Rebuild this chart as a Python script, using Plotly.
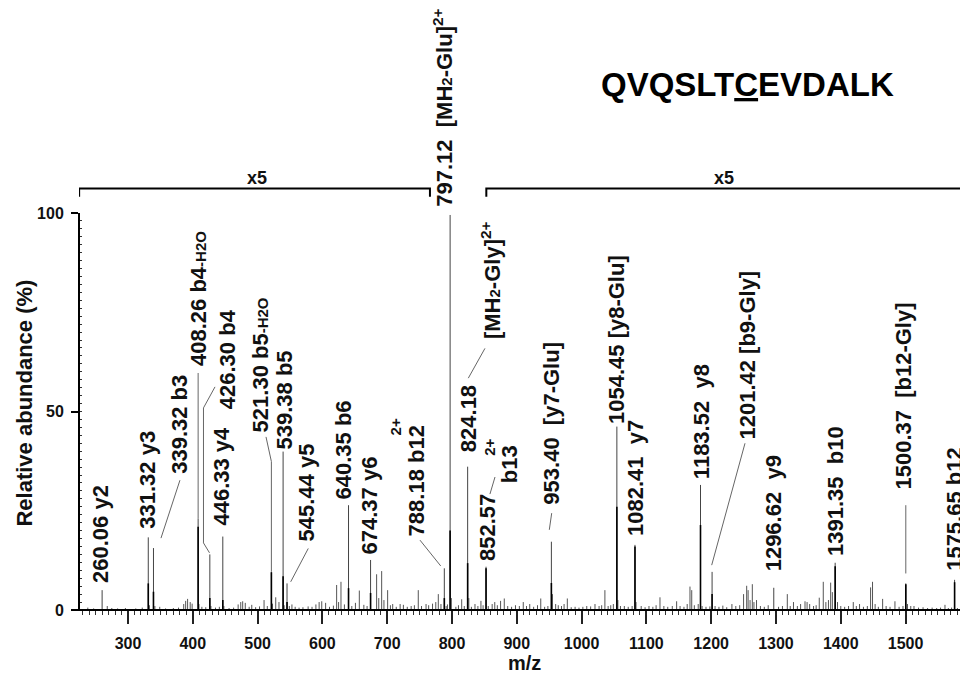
import plotly.graph_objects as go

# ---------------- data ----------------
# labelled fragment ions: m/z, displayed peak height (%), dark core height (%)
ion_mz = [260.06, 331.32, 339.32, 408.26, 426.30, 446.33, 521.30, 539.38, 545.44,
          640.35, 674.37, 788.18, 797.12, 824.18, 852.57, 953.40, 1054.45, 1082.41,
          1183.52, 1201.42, 1296.62, 1391.35, 1500.37, 1575.65]
ion_height = [5.0, 18.3, 15.6, 23.0, 14.0, 18.5, 9.7, 39.9, 6.7,
              26.4, 12.6, 10.5, 99.5, 36.1, 10.9, 17.2, 46.2, 16.4,
              31.5, 9.6, 5.6, 11.9, 6.7, 7.6]
ion_core = [0.0, 6.7, 4.6, 21.0, 3.0, 2.5, 9.5, 8.5, 2.0,
            5.5, 4.3, 3.0, 20.0, 11.8, 10.5, 6.8, 26.0, 16.0,
            21.4, 4.0, 0.0, 11.0, 6.5, 7.0]

# unlabelled background peaks
noise_mz = [238, 247, 268, 275, 284, 296, 312, 322, 333, 341.5, 349, 358, 370, 378, 386, 389,
            392, 396, 399, 409.5, 414, 420, 428, 435, 441, 448, 456, 463, 470, 474, 477, 481,
            487, 491, 497, 503, 510, 515, 523, 528, 533, 541, 549, 553, 558, 564, 570, 578,
            584, 590, 595, 599, 605, 611, 617, 622, 625, 628.7, 634, 645.4, 651, 657, 664,
            669, 683.7, 687, 691.5, 695, 700.7, 705, 708.5, 714, 720, 725, 731, 737, 742,
            748, 753, 760, 764, 770, 775, 778.9, 783, 791, 793, 799, 806, 810, 815, 819,
            826, 830, 835.5, 840, 844.7, 848, 856, 862, 866, 870, 875, 880.7, 886, 892, 898,
            904, 910, 915, 920, 926, 932, 937, 943, 948, 955, 960, 964, 969, 973, 978, 984,
            990, 996, 1002, 1008, 1014, 1020.7, 1027, 1031, 1036, 1041, 1045, 1049, 1056,
            1060, 1066, 1072, 1078, 1084, 1092, 1098, 1104, 1110, 1115, 1121, 1127, 1133,
            1140, 1146.7, 1152, 1158, 1163, 1167.3, 1170, 1174, 1180, 1186, 1192, 1198,
            1206, 1212, 1218, 1224, 1232, 1238, 1244, 1250, 1254.8, 1257, 1260, 1263.5,
            1266, 1270, 1276, 1282, 1288, 1304, 1310, 1317.5, 1322, 1327, 1333, 1338,
            1344.8, 1348, 1352, 1358, 1362, 1366.8, 1373, 1377, 1381, 1384.4, 1387, 1395,
            1400, 1406, 1412, 1419.3, 1424, 1429, 1435, 1441, 1446, 1449, 1453, 1458,
            1464.6, 1470, 1476, 1483.6, 1490, 1496, 1503, 1508, 1513, 1520, 1527, 1534,
            1541, 1548, 1554, 1560.8, 1566, 1571, 1580]
noise_height = [0.6, 0.4, 1.0, 0.5, 0.4, 0.5, 0.4, 0.6, 1.2, 1.0, 0.8, 0.4, 0.5, 0.6, 1.5, 2.3,
                2.8, 2.0, 1.6, 1.5, 0.8, 0.7, 1.0, 0.6, 0.8, 1.0, 0.5, 0.6, 1.4, 2.0, 2.2, 1.8,
                0.8, 1.3, 0.7, 0.9, 2.5, 1.0, 1.6, 3.2, 2.0, 1.2, 1.0, 1.4, 0.8, 0.6, 0.7, 0.9,
                0.8, 1.4, 2.0, 2.2, 1.8, 0.8, 1.1, 6.3, 2.0, 7.1, 1.4, 1.0, 1.8, 4.9, 1.3,
                1.0, 9.0, 3.0, 9.8, 2.5, 5.0, 1.2, 1.5, 0.8, 1.5, 1.3, 0.8, 1.0, 1.2,
                5.0, 1.0, 1.5, 1.2, 1.6, 2.0, 4.0, 1.5, 1.0, 1.4, 3.0, 0.8, 1.2, 2.7, 1.0,
                3.0, 0.8, 1.5, 1.0, 2.3, 1.2, 1.0, 1.5, 2.0, 1.2, 2.3, 2.9, 1.0, 0.8, 1.2,
                1.0, 2.0, 1.0, 1.5, 0.8, 1.2, 2.9, 0.8, 1.0, 4.0, 1.5, 1.2, 1.0, 1.5, 2.9, 0.7,
                0.8, 0.6, 0.8, 1.0, 0.9, 1.5, 1.0, 1.2, 5.0, 1.0, 1.2, 1.5, 2.5,
                1.0, 1.0, 0.8, 1.0, 2.0, 1.0, 0.7, 1.0, 0.8, 1.2, 3.2, 1.0, 0.8,
                1.0, 2.2, 1.0, 0.8, 1.5, 5.9, 5.0, 1.2, 1.5, 1.0, 0.8, 0.9,
                1.0, 0.8, 1.1, 0.7, 1.5, 1.0, 1.2, 4.0, 6.1, 5.0, 2.5, 6.5,
                2.0, 2.5, 1.0, 0.8, 1.2, 0.8, 1.0, 4.0, 1.0, 2.0, 1.0, 1.5,
                2.2, 2.0, 1.5, 1.0, 1.2, 3.1, 7.1, 2.0, 2.5, 6.9, 4.5, 2.0,
                1.0, 0.8, 1.0, 2.0, 1.0, 1.5, 0.8, 1.0, 5.7, 7.1, 1.5, 0.8,
                2.8, 1.0, 0.8, 2.2, 0.8, 1.0, 1.5, 1.0, 1.0, 0.6, 0.7, 0.5,
                0.6, 0.5, 0.6, 1.3, 0.5, 0.6, 0.5]

# peak annotations (text, anchor m/z, abundance at the label's lower end)
SM = '<span style="font-size:15px">{}</span>'
label_text = ["260.06 y2", "331.32 y3", "339.32 b3",
              "408.26 b4" + SM.format("-H2O"), "426.30 b4", "446.33 y4",
              "521.30 b5" + SM.format("-H2O"), "539.38 b5", "545.44 y5",
              "640.35 b6", "674.37 y6", "788.18 b12",
              "797.12&nbsp;&nbsp;[MH" + SM.format("2") + "-Glu]<sup>2+</sup>",
              "824.18", "[MH" + SM.format("2") + "-Gly]<sup>2+</sup>",
              "852.57", "b13",
              "953.40&nbsp;&nbsp;[y7-Glu]", "1054.45&nbsp;[y8-Glu]", "1082.41&nbsp;&nbsp;y7",
              "1183.52&nbsp;&nbsp;y8", "1201.42&nbsp;[b9-Gly]", "1296.62&nbsp;&nbsp;y9",
              "1391.35&nbsp;&nbsp;b10", "1500.37&nbsp;&nbsp;[b12-Gly]", "1575.65&nbsp;b12"]
label_x = [256.8, 328.9, 379.2, 408.8, 454.8, 445.1, 503.7, 542.3, 575.5,
           633.3, 672.7, 744.4, 786.0, 825.5, 860.2, 854.8, 888.0,
           954.3, 1053.9, 1084.0, 1185.0, 1256.8, 1296.1, 1391.0, 1497.5, 1576.2]
label_y = [6.55, 20.15, 34.0, 61.2, 50.4, 20.9, 44.6, 40.3, 16.9,
           27.7, 13.85, 18.4, 101.3, 39.5, 68.0, 12.1, 31.7,
           26.4, 46.6, 18.4, 32.7, 42.8, 9.6, 13.35, 30.2, 9.6]
# stand-alone charge marks
charge_x = [712.8, 858.6]
charge_y = [46.1, 41.1]

# leader lines joining labels to their peaks (m/z, abundance)
leaders = [
    [(380.2, 32.7), (350.9, 18.1)],
    [(408.26, 23.0), (408.26, 59.7)],
    [(434.3, 56.2), (416.5, 50.9), (416.5, 16.9), (425.8, 14.4)],
    [(513.0, 43.6), (521.3, 37.4), (521.3, 9.7)],
    [(551.1, 7.1), (578.2, 15.5)],
    [(782.6, 11.1), (750.6, 17.6)],
    [(825.2, 58.4), (850.9, 65.9)],
    [(858.6, 29.2), (866.4, 33.5)],
    [(950.2, 20.2), (953.9, 24.4)],
    [(1200.8, 11.3), (1252.2, 42.0)],
    [(1500.37, 9.2), (1500.37, 26.4)],
]

x_ticks = [300, 400, 500, 600, 700, 800, 900, 1000, 1100, 1200, 1300, 1400, 1500]
y_ticks = [0, 50, 100]
X_RANGE = [224.4, 1584.0]
Y_RANGE = [0, 153.65]

FONT = "Liberation Sans, Arial, sans-serif"


def sticks(xs, hs):
    px, py = [], []
    for x, h in zip(xs, hs):
        if h <= 0:
            continue
        px += [x, x, None]
        py += [0, h, None]
    return px, py


fig = go.Figure()

nx, ny = sticks(noise_mz, noise_height)
fig.add_trace(go.Scatter(x=nx, y=ny, mode="lines", line=dict(color="#555", width=1),
                         hoverinfo="skip", showlegend=False))
ix, iy = sticks(ion_mz, ion_height)
fig.add_trace(go.Scatter(x=ix, y=iy, mode="lines", line=dict(color="#444", width=1),
                         hoverinfo="skip", showlegend=False))
cx, cy = sticks(ion_mz, ion_core)
fig.add_trace(go.Scatter(x=cx, y=cy, mode="lines", line=dict(color="#000", width=1.6),
                         hoverinfo="skip", showlegend=False))
lx, ly = [], []
for seg in leaders:
    for (a, b) in seg:
        lx.append(a)
        ly.append(b)
    lx.append(None)
    ly.append(None)
fig.add_trace(go.Scatter(x=lx, y=ly, mode="lines", line=dict(color="#666", width=1),
                         hoverinfo="skip", showlegend=False))

annotations = []
for t, x, y in zip(label_text, label_x, label_y):
    annotations.append(dict(x=x, y=y, xref="x", yref="y", text=t, showarrow=False,
                            textangle=-90, xanchor="center", yanchor="bottom", borderpad=0,
                            font=dict(family=FONT, size=22, color="#111", weight="bold")))
for x, y in zip(charge_x, charge_y):
    annotations.append(dict(x=x, y=y, xref="x", yref="y", text="2+", showarrow=False,
                            textangle=-90, xanchor="center", yanchor="middle", borderpad=0,
                            font=dict(family=FONT, size=15, color="#111", weight="bold")))
# x5 bracket labels
for x in [499.8, 1219.8]:
    annotations.append(dict(x=x, y=108.9, xref="x", yref="y", text="x5", showarrow=False,
                            xanchor="center", yanchor="middle", borderpad=0,
                            font=dict(family=FONT, size=18, color="#111", weight="bold")))
# peptide sequence
annotations.append(dict(x=1256.8, y=132.3, xref="x", yref="y", text="QVQSLT<u>C</u>EVDALK",
                        showarrow=False, xanchor="center", yanchor="middle",
                        font=dict(family=FONT, size=33, color="#000", weight="bold")))
# axis titles
annotations.append(dict(x=-0.0624, y=0.3385, xref="paper", yref="paper",
                        text="Relative abundance (%)", showarrow=False, textangle=-90,
                        xanchor="center", yanchor="middle",
                        font=dict(family=FONT, size=22, color="#111", weight="bold")))
annotations.append(dict(x=0.506, y=-0.0870, xref="paper", yref="paper", text="m/z",
                        showarrow=False, xanchor="center", yanchor="middle",
                        font=dict(family=FONT, size=20, color="#111", weight="bold")))

shapes = [
    # y axis line (0..100)
    dict(type="line", xref="paper", yref="y", x0=0, x1=0, y0=0, y1=100,
         line=dict(color="#000", width=2)),
    # x axis line, extended a little to the left of the y axis
    dict(type="line", xref="paper", yref="paper", x0=-7 / 881, x1=1, y0=0, y1=0,
         line=dict(color="#000", width=2)),
    # x5 brackets
    dict(type="path", xref="x", yref="y",
         path="M 224.6,104.1 L 224.6,106.2 L 766,106.2 L 766,104.1",
         line=dict(color="#000", width=2)),
    dict(type="path", xref="x", yref="y",
         path="M 853,104.1 L 853,106.2 L 1590,106.2",
         line=dict(color="#000", width=2)),
]

fig.update_layout(
    width=960, height=677,
    margin=dict(l=79, r=0, t=0, b=67, pad=0),
    paper_bgcolor="white", plot_bgcolor="white",
    showlegend=False,
    annotations=annotations,
    shapes=shapes,
    xaxis=dict(range=X_RANGE, showgrid=False, zeroline=False, showline=False,
               tickmode="array", tickvals=x_ticks, ticks="outside", ticklen=13,
               tickwidth=1.5, tickcolor="#222", ticklabelstandoff=6,
               tickfont=dict(family=FONT, size=16, color="#111", weight="bold"),
               minor=dict(tickmode="array",
                          tickvals=[v for v in range(230, 1590, 10) if v % 100 != 0],
                          ticks="outside", ticklen=4, tickwidth=1, tickcolor="#333"),
               fixedrange=True),
    yaxis=dict(range=Y_RANGE, showgrid=False, zeroline=False, showline=False,
               tickmode="array", tickvals=y_ticks, ticks="outside", ticklen=7,
               tickwidth=2, tickcolor="#000", ticklabelstandoff=4,
               tickfont=dict(family=FONT, size=16, color="#111", weight="bold"),
               minor=dict(tickmode="array", tickvals=[v for v in range(2, 100, 2)],
                          ticks="inside", ticklen=3, tickwidth=1, tickcolor="#333"),
               fixedrange=True),
)

fig.write_html("out.html")
